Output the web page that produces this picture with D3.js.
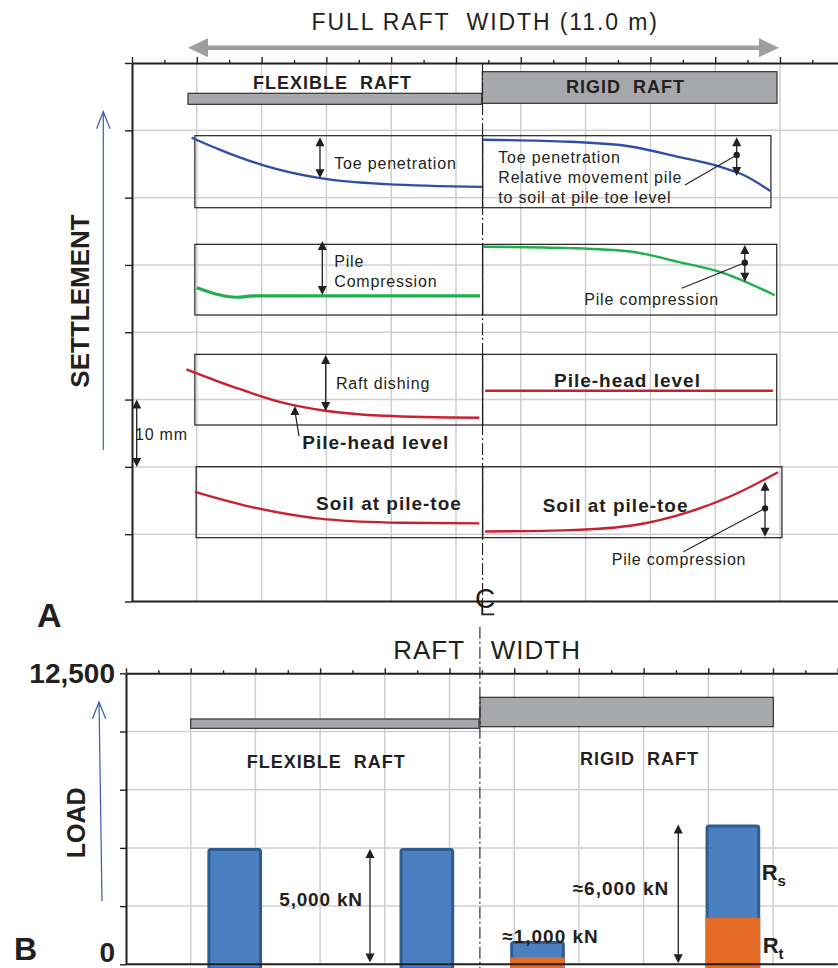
<!DOCTYPE html>
<html>
<head>
<meta charset="utf-8">
<script src="https://cdn.jsdelivr.net/npm/d3@7"></script>
<style>
  body { margin: 0; background: #fff; }
  svg { display: block; font-family: "Liberation Sans", Arial, Helvetica, sans-serif; }
  text { white-space: pre; }
</style>
</head>
<body>
<svg id="fig" width="838" height="968"></svg>
<script>
// ---- Settlement profiles: [position across raft (grid units), settlement (mm)] ----
const toeFlexible  = [[0.92, 11.1], [1.36, 12.9], [2.03, 15.2], [2.90, 17.1], [3.93, 18.0], [5.40, 18.4]];
const toeRigid     = [[5.42, 11.4], [6.76, 11.7], [7.69, 12.4], [8.41, 13.9], [9.07, 15.4], [9.43, 16.6], [9.85, 19.0]];
const compFlexible = [[1.00, 33.4], [1.62, 34.8], [1.87, 34.6], [5.37, 34.6]];
const compRigid    = [[5.42, 27.3], [6.76, 27.5], [7.69, 28.0], [8.41, 29.5], [9.13, 31.2], [9.92, 34.5]];
const headFlexible = [[0.84, 45.5], [1.56, 48.1], [2.34, 50.5], [3.01, 51.7], [3.88, 52.4], [5.36, 52.7]];
const headRigid    = [[5.45, 48.7], [9.89, 48.7]];
const soilFlexible = [[0.97, 63.7], [1.82, 65.9], [3.01, 67.8], [4.14, 68.3], [5.36, 68.4]];
const soilRigid    = [[5.45, 69.6], [6.76, 69.4], [7.79, 68.6], [8.56, 66.8], [9.23, 64.4], [9.97, 60.8]];

// ---- Pile loads (kN) ----
const pileNames  = ["Flexible pile 1", "Flexible pile 2", "Rigid pile 1", "Rigid pile 2"];
const pileX      = [1.68, 4.65, 6.36, 9.38];
const shaftLoad  = [5000, 5000, 700, 4000];   // R_s
const toeLoad    = [0, 0, 300, 2000];         // R_t
const loadTicks  = [0, 2500, 5000, 7500, 10000, 12500];
const loadLabels = ["0", "", "", "", "", "12,500"];

// ---- Colours ----
const INK = "#231f20", GRID = "#cfcfcf", RAFT = "#a7a8ab";
const BLUE = "#2f4fa6", GREEN = "#1db04b", RED = "#c8202e";
const BAR_BLUE = "#4a7fc0", BAR_EDGE = "#2d5c92", BAR_ORANGE = "#e46b25";
const NAVY = "#3a5cb8";

const svg = d3.select("#fig");

// ---- Scales ----
const xA = d3.scaleLinear().domain([0, 10.9]).range([132, 838.3]);
const yA = d3.scaleLinear().domain([0, 80]).range([63, 601.5]);      // settlement, mm
const xB = d3.scaleLinear().domain([0, 11]).range([126, 837.7]);
const yB = d3.scaleLinear().domain([0, 12500]).range([964.3, 673.3]); // load, kN

// ---- helpers ----
function label(g, t, x, y, o = {}) {
  return g.append("text")
    .attr("x", x).attr("y", y)
    .attr("fill", o.fill || INK)
    .attr("font-size", o.size || 16)
    .attr("font-weight", o.bold ? "bold" : "normal")
    .attr("letter-spacing", o.ls == null ? 0.8 : o.ls)
    .attr("text-anchor", o.anchor || "start")
    .text(t);
}
function head(g, x, y, dir, hw = 4.5, hl = 9, fill = INK) {
  // dir = -1 : pointing up, +1 : pointing down
  g.append("path")
    .attr("d", `M${x},${y}L${x - hw},${y - dir * hl}L${x + hw},${y - dir * hl}Z`)
    .attr("fill", fill);
}
function dblArrow(g, x, y1, y2) {
  g.append("line").attr("x1", x).attr("x2", x).attr("y1", y1 + 4).attr("y2", y2 - 4)
    .attr("stroke", INK).attr("stroke-width", 1.3);
  head(g, x, y1, -1);
  head(g, x, y2, 1);
}
function leader(g, x, y, x2, y2) {
  g.append("line").attr("x1", x).attr("y1", y).attr("x2", x2).attr("y2", y2)
    .attr("stroke", INK).attr("stroke-width", 1.1);
  g.append("circle").attr("cx", x).attr("cy", y).attr("r", 3.2).attr("fill", INK);
}
function openArrow(g, x1, y1, x2, y2) {
  // thin line with an open chevron at (x2, y2)
  g.append("line").attr("x1", x1).attr("y1", y1).attr("x2", x2).attr("y2", y2)
    .attr("stroke", NAVY).attr("stroke-width", 1.2);
  g.append("path").attr("d", `M${x2 - 6.7},${y2 + 17}L${x2},${y2}L${x2 + 6.7},${y2 + 17}`)
    .attr("fill", "none").attr("stroke", NAVY).attr("stroke-width", 1.2);
}
function styleAxis(g, w = 2) {
  g.select(".domain").attr("stroke", INK).attr("stroke-width", w);
  g.selectAll(".tick line").attr("stroke", INK).attr("stroke-width", 1.4);
}

// =====================================================================
// Panel A : settlement across the raft
// =====================================================================
const A = svg.append("g");

// grid
A.append("g").selectAll("line").data(d3.range(1, 11)).join("line")
  .attr("x1", d => xA(d)).attr("x2", d => xA(d)).attr("y1", yA(0)).attr("y2", yA(80))
  .attr("stroke", GRID).attr("stroke-width", 1.5);
A.append("g").selectAll("line").data(d3.range(10, 80, 10)).join("line")
  .attr("x1", xA(0)).attr("x2", xA(10.9)).attr("y1", d => yA(d)).attr("y2", d => yA(d))
  .attr("stroke", GRID).attr("stroke-width", 1.5);

// axes
const topMajorA = A.append("g").attr("transform", `translate(0,${yA(0)})`)
  .call(d3.axisTop(xA).tickValues(d3.range(0, 11)).tickSize(6).tickSizeOuter(0).tickFormat(""));
styleAxis(topMajorA);
const topMinorA = A.append("g").attr("transform", `translate(0,${yA(0)})`)
  .call(d3.axisTop(xA).tickValues(d3.range(0.5, 11, 1)).tickSize(3).tickSizeOuter(0).tickFormat(""));
topMinorA.select(".domain").remove();
styleAxis(topMinorA);
const leftA = A.append("g").attr("transform", `translate(${xA(0)},0)`)
  .call(d3.axisLeft(yA).tickValues(d3.range(0, 90, 10)).tickSize(7).tickSizeOuter(0).tickFormat(""));
styleAxis(leftA);
A.append("line").attr("x1", xA(0)).attr("x2", xA(10.9)).attr("y1", yA(80)).attr("y2", yA(80))
  .attr("stroke", INK).attr("stroke-width", 2);

// full-width dimension arrow and title
const wy = yA(-2.27), wx1 = xA(0.864), wx2 = xA(9.985);
A.append("line").attr("x1", wx1 + 15).attr("x2", wx2 - 15).attr("y1", wy).attr("y2", wy)
  .attr("stroke", "#9d9ea0").attr("stroke-width", 4.5);
A.append("path").attr("d", `M${wx1},${wy}L${wx1 + 20},${wy - 9.5}L${wx1 + 20},${wy + 9.5}Z`).attr("fill", "#9d9ea0");
A.append("path").attr("d", `M${wx2},${wy}L${wx2 - 20},${wy - 9.5}L${wx2 - 20},${wy + 9.5}Z`).attr("fill", "#9d9ea0");
label(A, "FULL RAFT  WIDTH (11.0 m)", xA(2.77), yA(-4.9), { size: 23, ls: 1.9 });

// raft sections
A.append("rect").attr("x", xA(0.864)).attr("width", xA(5.397) - xA(0.864))
  .attr("y", yA(4.5)).attr("height", yA(6.14) - yA(4.5))
  .attr("fill", RAFT).attr("stroke", "#333").attr("stroke-width", 1.2);
A.append("rect").attr("x", xA(5.406)).attr("width", xA(9.954) - xA(5.406))
  .attr("y", yA(1.29)).attr("height", yA(5.99) - yA(1.29))
  .attr("fill", RAFT).attr("stroke", "#333").attr("stroke-width", 1.2);
label(A, "FLEXIBLE  RAFT", xA(1.867), yA(3.86), { size: 18, bold: true, ls: 1 });
label(A, "RIGID  RAFT", xA(6.698), yA(4.46), { size: 18, bold: true, ls: 1 });

// frames around each profile
const frames = [
  [0.97, 5.41, 10.8, 21.5], [5.41, 9.86, 10.8, 21.5],
  [0.97, 5.41, 26.94, 37.44], [5.41, 9.95, 26.94, 37.44],
  [0.97, 5.41, 43.28, 53.78], [5.41, 9.95, 43.28, 53.78],
  [0.99, 5.41, 59.98, 70.52], [5.41, 10.03, 59.98, 70.52]
];
A.append("g").selectAll("rect").data(frames).join("rect")
  .attr("x", d => xA(d[0])).attr("width", d => xA(d[1]) - xA(d[0]))
  .attr("y", d => yA(d[2])).attr("height", d => yA(d[3]) - yA(d[2]))
  .attr("fill", "none").attr("stroke", INK).attr("stroke-width", 1.2);

// centre line
const clA = xA(5.41);
A.append("line").attr("x1", clA).attr("x2", clA).attr("y1", yA(0)).attr("y2", yA(81.7))
  .attr("stroke", INK).attr("stroke-width", 1.1).attr("stroke-dasharray", "12,3,2,3");

// profiles
const line = d3.line().x(d => xA(d[0])).y(d => yA(d[1])).curve(d3.curveMonotoneX);
const profiles = [
  [toeFlexible, BLUE, 2.4], [toeRigid, BLUE, 2.4],
  [compFlexible, GREEN, 3.2], [compRigid, GREEN, 2.4],
  [headFlexible, RED, 2.4], [headRigid, RED, 2.4],
  [soilFlexible, RED, 2.4], [soilRigid, RED, 2.4]
];
A.append("g").selectAll("path").data(profiles).join("path")
  .attr("d", d => line(d[0])).attr("fill", "none")
  .attr("stroke", d => d[1]).attr("stroke-width", d => d[2]).attr("stroke-linecap", "butt");

// annotations
label(A, "Toe penetration", xA(3.122), yA(15.75));
dblArrow(A, xA(2.901), yA(11.04), yA(17.13));
label(A, "Toe penetration", xA(5.653), yA(14.81));
label(A, "Relative movement pile", xA(5.653), yA(17.87));
label(A, "to soil at pile toe level", xA(5.653), yA(20.84));
dblArrow(A, xA(9.332), yA(11.04), yA(16.79));
leader(A, xA(9.332), yA(13.67), xA(8.534), yA(18.13));

label(A, "Pile", xA(3.122), yA(30.26));
label(A, "Compression", xA(3.122), yA(33.32));
dblArrow(A, xA(2.937), yA(26.44), yA(34.46));
dblArrow(A, xA(9.457), yA(27.04), yA(32.49));
leader(A, xA(9.457), yA(29.67), xA(8.483), yA(33.47));
label(A, "Pile compression", xA(6.98), yA(35.95));

label(A, "Raft dishing", xA(3.148), yA(48.43));
dblArrow(A, xA(2.989), yA(43.38), yA(51.7));
label(A, "Pile-head level", xA(2.628), yA(57.39), { size: 19, bold: true, ls: 1 });
A.append("line").attr("x1", xA(2.577)).attr("y1", yA(55.42)).attr("x2", xA(2.518)).attr("y2", yA(51.9))
  .attr("stroke", INK).attr("stroke-width", 1.2);
head(A, xA(2.515), yA(50.96), -1);
label(A, "Pile-head level", xA(6.512), yA(48.18), { size: 19, bold: true, ls: 1 });

dblArrow(A, xA(0.0725), yA(50), yA(60));
label(A, "10 mm", xA(0.046), yA(56.01));

label(A, "Soil at pile-toe", xA(2.84), yA(66.41), { size: 19, bold: true, ls: 1 });
label(A, "Soil at pile-toe", xA(6.338), yA(66.66), { size: 19, bold: true, ls: 1 });
dblArrow(A, xA(9.769), yA(62.2), yA(70.38));
leader(A, xA(9.769), yA(66.16), xA(8.508), yA(72.6));
label(A, "Pile compression", xA(7.403), yA(74.58));

// centre-line symbol: a C with an L stroke drawn through it
label(A, "C", xA(5.45), yA(80.9), { size: 28, ls: 0, anchor: "middle" });
const lx = xA(5.405), lyTop = yA(79.8), lyBot = yA(81.9);
A.append("path").attr("d", `M${lx},${lyTop}L${lx},${lyBot}L${lx + 12},${lyBot}`)
  .attr("fill", "none").attr("stroke", INK).attr("stroke-width", 1.8);

// axis title and panel letter
openArrow(A, xA(-0.443), yA(57.5), xA(-0.443), yA(7.23));
label(A, "SETTLEMENT", 0, 0, { size: 26, bold: true, ls: 0, anchor: "middle" })
  .attr("transform", `translate(${xA(-0.802) + 9},${yA(35.36)}) rotate(-90)`);
label(A, "A", xA(-1.466), yA(83.75), { size: 34, bold: true, ls: 0 });

// =====================================================================
// Panel B : pile loads
// =====================================================================
const B = svg.append("g");

B.append("g").selectAll("line").data(d3.range(1, 11)).join("line")
  .attr("x1", d => xB(d)).attr("x2", d => xB(d)).attr("y1", yB(0)).attr("y2", yB(12500))
  .attr("stroke", GRID).attr("stroke-width", 1.5);
B.append("g").selectAll("line").data(loadTicks.slice(1, -1)).join("line")
  .attr("x1", xB(0)).attr("x2", xB(11)).attr("y1", d => yB(d)).attr("y2", d => yB(d))
  .attr("stroke", GRID).attr("stroke-width", 1.5);

const topMajorB = B.append("g").attr("transform", `translate(0,${yB(12500)})`)
  .call(d3.axisTop(xB).tickValues(d3.range(0, 12)).tickSize(5).tickSizeOuter(0).tickFormat(""));
styleAxis(topMajorB);
const topMinorB = B.append("g").attr("transform", `translate(0,${yB(12500)})`)
  .call(d3.axisTop(xB).tickValues(d3.range(0.5, 11, 1)).tickSize(3).tickSizeOuter(0).tickFormat(""));
topMinorB.select(".domain").remove();
styleAxis(topMinorB);
const leftB = B.append("g").attr("transform", `translate(${xB(0)},0)`)
  .call(d3.axisLeft(yB).tickValues(loadTicks).tickSize(6).tickPadding(5).tickSizeOuter(0)
    .tickFormat((d, i) => loadLabels[i]));
styleAxis(leftB);
leftB.selectAll(".tick text").attr("fill", INK).attr("font-size", 28).attr("font-weight", "bold")
  .attr("font-family", '"Liberation Sans", Arial, sans-serif')
  .filter(d => d === 0).attr("dy", "-0.1em");

// raft sections
B.append("rect").attr("x", xB(1.0)).attr("width", xB(5.456) - xB(1.0))
  .attr("y", yB(10537)).attr("height", yB(10137) - yB(10537))
  .attr("fill", RAFT).attr("stroke", "#333").attr("stroke-width", 1.2);
B.append("rect").attr("x", xB(5.471)).attr("width", xB(10.005) - xB(5.471))
  .attr("y", yB(11469)).attr("height", yB(10206) - yB(11469))
  .attr("fill", RAFT).attr("stroke", "#333").attr("stroke-width", 1.2);
label(B, "FLEXIBLE  RAFT", xB(1.866), yB(8445), { size: 18, bold: true, ls: 1 });
label(B, "RIGID  RAFT", xB(7.017), yB(8562), { size: 18, bold: true, ls: 1 });

// centre line
const clB = xB(5.47);
B.append("line").attr("x1", clB).attr("x2", clB).attr("y1", yB(14500)).attr("y2", yB(-250))
  .attr("stroke", INK).attr("stroke-width", 1.1).attr("stroke-dasharray", "12,3,2,3");
label(B, "RAFT", xB(5.24), yB(13101), { size: 26, ls: 1, anchor: "end" });
label(B, "WIDTH", xB(5.637), yB(13101), { size: 26, ls: 1 });

// pile load bars: shaft resistance stacked on toe resistance
const barW = 0.845, base = yB(-200);
const piles = pileNames.map((n, i) => ({ name: n, x: pileX[i], rs: shaftLoad[i], rt: toeLoad[i] }));
const bars = B.append("g").selectAll("g").data(piles).join("g");
bars.append("rect")
  .attr("x", d => xB(d.x - barW / 2) + 1.5).attr("width", d => xB(d.x + barW / 2) - xB(d.x - barW / 2) - 3)
  .attr("y", d => yB(d.rs + d.rt) + 1.5).attr("height", d => base - yB(d.rs + d.rt) - 1.5)
  .attr("rx", 2).attr("fill", BAR_BLUE).attr("stroke", BAR_EDGE).attr("stroke-width", 3);
bars.filter(d => d.rt > 0).append("rect")
  .attr("x", d => xB(d.x - barW / 2)).attr("width", d => xB(d.x + barW / 2) - xB(d.x - barW / 2))
  .attr("y", d => yB(d.rt)).attr("height", d => base - yB(d.rt))
  .attr("fill", BAR_ORANGE);

// load annotations
dblArrow(B, xB(3.771), yB(shaftLoad[1]) + 1, yB(80));
label(B, "5,000 kN", xB(2.369), yB(2504), { size: 19, bold: true, ls: 0.8 });
dblArrow(B, xB(8.536), yB(shaftLoad[3] + toeLoad[3]), yB(50));
label(B, "\u22486,000 kN", xB(6.904), yB(2981), { size: 19, bold: true, ls: 1 });
label(B, "\u22481,000 kN", xB(5.816), yB(902), { size: 19, bold: true, ls: 1 });

const rs = label(B, "R", xB(9.825), yB(3621), { size: 22, bold: true, ls: 0 });
rs.append("tspan").attr("dy", 6).attr("font-size", 15).text("s");
const rt = label(B, "R", xB(9.841), yB(472), { size: 22, bold: true, ls: 0 });
rt.append("tspan").attr("dy", 6).attr("font-size", 15).text("t");

// bottom axis line
B.append("line").attr("x1", xB(0)).attr("x2", xB(11)).attr("y1", yB(0)).attr("y2", yB(0))
  .attr("stroke", INK).attr("stroke-width", 2);

// axis title and panel letter
openArrow(B, xB(-0.371), yB(2719), xB(-0.417), yB(11267));
label(B, "LOAD", 0, 0, { size: 25, bold: true, ls: 0, anchor: "middle" })
  .attr("transform", `translate(${xB(-0.773) + 9},${yB(6078)}) rotate(-90)`);
label(B, "B", xB(-1.731), yB(185), { size: 32, bold: true, ls: 0 });
</script>
</body>
</html>
